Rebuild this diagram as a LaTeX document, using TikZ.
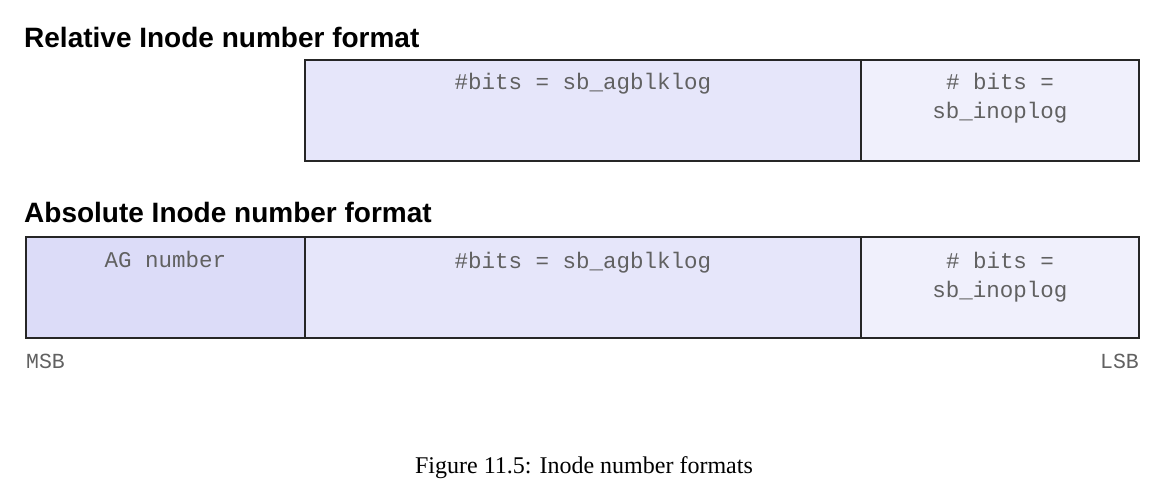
\documentclass[tikz,border=0pt]{standalone}
\usepackage{fontspec}
\setmainfont{Liberation Serif}
\setsansfont{Liberation Sans}
\setmonofont{Liberation Mono}
\begin{document}
\begin{tikzpicture}[x=1pt,y=-1pt,
  field/.style={draw=black!85,line width=2pt,minimum height=101pt,inner sep=0pt},
  ftext/.style={font=\ttfamily\fontsize{22.5}{29}\selectfont,text=black!62,anchor=base,inner sep=0pt,align=center},
  title/.style={font=\sffamily\bfseries\fontsize{28}{30}\selectfont,anchor=base west,inner sep=0pt},
  msb/.style={font=\ttfamily\fontsize{21.5}{24}\selectfont,text=black!62,inner sep=0pt}]
\definecolor{agfill}{RGB}{220,220,248}
\definecolor{midfill}{RGB}{230,230,250}
\definecolor{lsbfill}{RGB}{240,240,252}
\useasboundingbox (0,0) rectangle (1168,489);
\node[title] (t1) at (24,48) {Relative Inode number format};
\node[title] (t2) at (24,223) {Absolute Inode number format};
% relative row
\node[field,fill=midfill,minimum width=556pt] (rmid) at (583,110.5) {};
\node[field,fill=lsbfill,minimum width=278pt] (rlsb) at (1000,110.5) {};
\node[ftext] (rmidt) at (583,90) {\#bits = sb\_agblklog};
\node[ftext] (rlsbt) at (1000,119) {\# bits =\\sb\_inoplog};
% absolute row
\node[field,fill=agfill,minimum width=279pt] (aag) at (165.5,287.5) {};
\node[field,fill=midfill,minimum width=556pt] (amid) at (583,287.5) {};
\node[field,fill=lsbfill,minimum width=278pt] (alsb) at (1000,287.5) {};
\node[ftext] (aagt) at (165.5,268) {AG number};
\node[ftext] (amidt) at (583,269) {\#bits = sb\_agblklog};
\node[ftext] (alsbt) at (1000,298) {\# bits =\\sb\_inoplog};
\node[msb,anchor=base west] (msb) at (26,368) {MSB};
\node[msb,anchor=base east] (lsb) at (1139,368) {LSB};
\node[font=\fontsize{24}{28}\selectfont,anchor=base,inner sep=0pt] (cap) at (584,473) {Figure 11.5: Inode number formats};
\end{tikzpicture}
\end{document}
